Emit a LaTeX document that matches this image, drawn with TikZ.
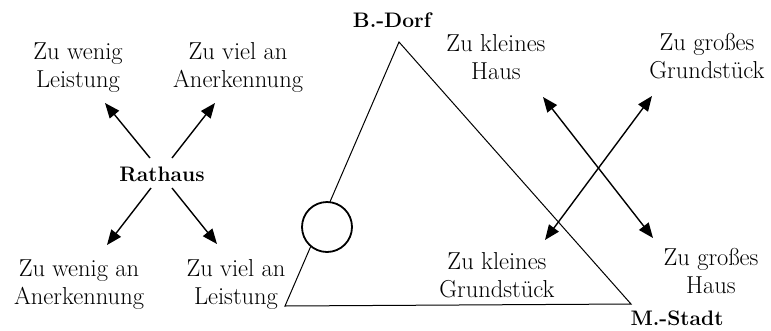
\documentclass[tikz,border=0pt]{standalone}
\usetikzlibrary{arrows.meta}
\newcommand{\zweizeilig}[2]{\strut #1\\\strut #2}
\begin{document}
\begin{tikzpicture}[x=1pt,y=-1pt,
  lbl/.style={align=center, inner sep=0pt, font=\fontsize{24.5}{28}\selectfont},
  blbl/.style={inner sep=0pt, anchor=base, font=\fontsize{21}{24}\selectfont\bfseries},
  arr/.style={line width=1.4pt, -{Triangle[length=15pt,width=12pt]}},
  darr/.style={line width=1.4pt, {Triangle[length=15pt,width=12pt]}-{Triangle[length=15pt,width=12pt]}},
  tri/.style={line width=1pt, line join=miter}]
\useasboundingbox (0,0) rectangle (771,330);

% left group
\node[blbl] (rathaus) at (162,181) {Rathaus};
\node[lbl] (wl) at (78,67.4) {\zweizeilig{Zu wenig}{Leistung}};
\node[lbl] (va) at (238,67.4) {\zweizeilig{Zu viel an}{Anerkennung}};
\node[lbl] (wa) at (79,284.4) {\zweizeilig{Zu wenig an}{Anerkennung}};
\node[lbl] (vl) at (236,284.4) {\zweizeilig{Zu viel an}{Leistung}};

\coordinate (a1s) at (150,158); \coordinate (a1e) at (105,103);
\coordinate (a2s) at (172,158); \coordinate (a2e) at (215,103);
\coordinate (a3s) at (151,188); \coordinate (a3e) at (107,245);
\coordinate (a4s) at (172,188); \coordinate (a4e) at (217,244);
\draw[arr] (a1s) -- (a1e);
\draw[arr] (a2s) -- (a2e);
\draw[arr] (a3s) -- (a3e);
\draw[arr] (a4s) -- (a4e);

% triangle
\coordinate (B) at (399,42);
\coordinate (L) at (285,306);
\coordinate (M) at (631,304);
\draw[tri] (B) -- (L) -- (M) -- cycle;
\node[draw, circle, line width=1.8pt, fill=white, minimum size=50pt, inner sep=0pt] (ring) at (327,227) {};
\node[blbl] (bdorf) at (392,27) {B.-Dorf};
\node[blbl] (mstadt) at (677,325) {M.-Stadt};

% right group
\node[lbl] (kh) at (496,59.4) {\zweizeilig{Zu kleines}{Haus}};
\node[lbl] (gg) at (707,58.4) {\zweizeilig{Zu großes}{Grundstück}};
\node[lbl] (kg) at (497,277.4) {\zweizeilig{Zu kleines}{Grundstück}};
\node[lbl] (gh) at (711,273.4) {\zweizeilig{Zu großes}{Haus}};

\coordinate (d1a) at (543,97); \coordinate (d1b) at (653,238);
\coordinate (d2a) at (652,96); \coordinate (d2b) at (545,240);
\draw[darr] (d1a) -- (d1b);
\draw[darr] (d2a) -- (d2b);
\end{tikzpicture}
\end{document}
